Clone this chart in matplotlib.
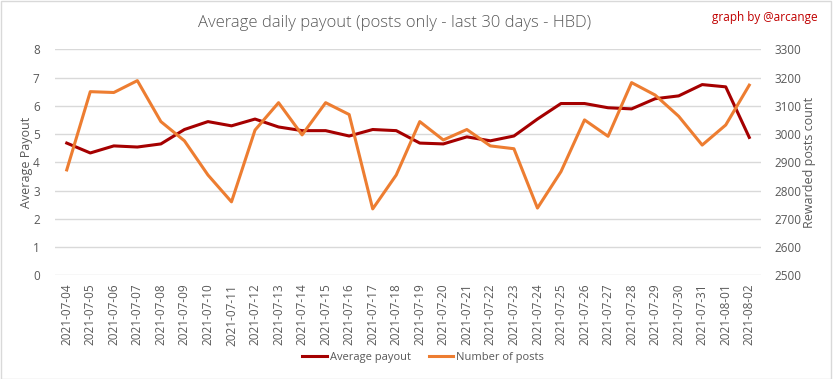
import matplotlib.pyplot as plt
from matplotlib.patches import Rectangle

dates = ["2021-07-04", "2021-07-05", "2021-07-06", "2021-07-07", "2021-07-08",
         "2021-07-09", "2021-07-10", "2021-07-11", "2021-07-12", "2021-07-13",
         "2021-07-14", "2021-07-15", "2021-07-16", "2021-07-17", "2021-07-18",
         "2021-07-19", "2021-07-20", "2021-07-21", "2021-07-22", "2021-07-23",
         "2021-07-24", "2021-07-25", "2021-07-26", "2021-07-27", "2021-07-28",
         "2021-07-29", "2021-07-30", "2021-07-31", "2021-08-01", "2021-08-02"]

avg_payout = [4.68, 4.33, 4.58, 4.54, 4.65, 5.16, 5.44, 5.29, 5.53, 5.25,
              5.12, 5.12, 4.93, 5.16, 5.12, 4.68, 4.65, 4.90, 4.76, 4.93,
              5.53, 6.08, 6.08, 5.93, 5.89, 6.25, 6.35, 6.75, 6.67, 4.88]

nb_posts = [2873, 3150, 3147, 3189, 3044, 2976, 2855, 2760, 3014, 3111,
            2997, 3111, 3069, 2735, 2855, 3044, 2979, 3016, 2958, 2948,
            2738, 2867, 3050, 2992, 3182, 3138, 3063, 2961, 3032, 3173]

GRAY = "#595959"
RED = "#A50000"
ORANGE = "#ED7D31"


def main():
    plt.rcParams["font.family"] = ["Open Sans", "DejaVu Sans"]
    fig = plt.figure(figsize=(8.33, 3.79), dpi=100)
    ax = fig.add_axes([0.066, 0.2736, 0.8476, 0.5964])
    ax2 = ax.twinx()

    x = list(range(len(dates)))
    l1, = ax.plot(x, avg_payout, color=RED, lw=2.2, label="Average payout", zorder=3)
    l2, = ax2.plot(x, nb_posts, color=ORANGE, lw=2.2, label="Number of posts", zorder=2)

    ax.set_xlim(-0.5, len(dates) - 0.5)
    ax.set_ylim(0, 8)
    ax2.set_ylim(2500, 3300)
    ax.set_yticks(range(0, 9))
    ax2.set_yticks(range(2500, 3301, 100))
    ax.set_xticks(x)
    ax.set_xticklabels(dates, rotation=90, fontsize=8.5, color=GRAY)
    ax.grid(axis="y", color="#D9D9D9", lw=1)
    ax.set_axisbelow(True)

    for a in (ax, ax2):
        for s in a.spines.values():
            s.set_visible(False)
        a.tick_params(length=0, colors=GRAY, labelsize=8.5)
    ax.tick_params(axis="y", pad=11)
    ax2.tick_params(axis="y", pad=10)
    ax.tick_params(axis="x", pad=6)

    ax.set_ylabel("Average Payout", color=GRAY, fontsize=9, labelpad=0)
    ax2.set_ylabel("Rewarded posts count", color=GRAY, fontsize=9, labelpad=1)

    fig.text(0.474, 0.94, "Average daily payout (posts only - last 30 days - HBD)",
             ha="center", va="center", fontsize=12, color=GRAY, fontweight="light")
    fig.text(0.982, 0.955, "graph by @arcange", ha="right", va="center",
             fontsize=8.5, color="#C00000")

    fig.legend([l1, l2], ["Average payout", "Number of posts"], loc="center",
               bbox_to_anchor=(0.508, 0.058), ncol=2, frameon=False, fontsize=8,
               labelcolor=GRAY, handlelength=2.2, handletextpad=0.3, columnspacing=1.6)

    fig.patches.append(Rectangle((0.001, 0.001), 0.997, 0.996, transform=fig.transFigure,
                                 fill=False, edgecolor="#D9D9D9", lw=1))
    fig.savefig("out.png", dpi=100)


if __name__ == "__main__":
    main()
